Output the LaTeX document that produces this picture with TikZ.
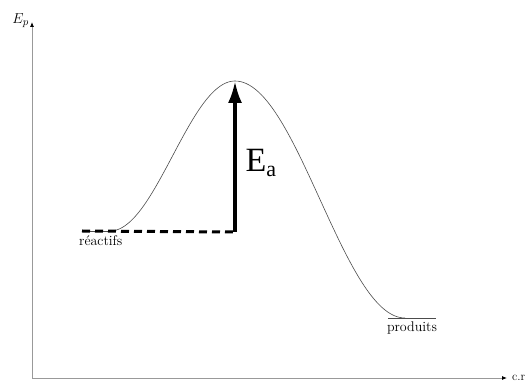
\documentclass[tikz,border=0pt]{standalone}
\usepackage{fontspec}
\newfontfamily\timesfont{Liberation Serif}
\usetikzlibrary{arrows.meta,positioning}

\begin{document}
\begin{tikzpicture}[x=1pt,y=1pt,>=Latex,
 axis/.style={draw=gray!80,line width=0.8pt,-{Latex[length=5pt,width=4pt,color=black]}},
 curve/.style={draw=black!70,line width=0.6pt},
 level/.style={draw=black!70,line width=0.6pt},
 label/.style={font=\fontsize{14}{16}\selectfont,inner sep=1pt}]
\useasboundingbox (0,0) rectangle (528,383);
% axes
\coordinate (o) at (32,5);
\coordinate (ytop) at (32,361);
\coordinate (xend) at (507,5);
\draw[axis] (o)--(ytop);
\draw[axis] (o)--(xend);
\node[label,anchor=east,font=\fontsize{15}{17}\selectfont] (ep) at (30,362) {$E_p$};
\node[label,anchor=west,font=\fontsize{12}{14}\selectfont] (cr) at (511,5.5) {c.r};
% levels
\coordinate (r1) at (82,152);
\coordinate (r2) at (110,152);
\coordinate (p1) at (388,65);
\coordinate (p2) at (436,65);
\coordinate (top) at (235,302);
\coordinate (foot) at (235,151);
\draw[level] (r1)--(r2);
\draw[level] (p1)--(p2);
\draw[curve] plot[domain=110:235,samples=60]
 (\x,{152+75*(1-cos(1.44*(\x-110)))});
\draw[curve] plot[domain=235:405,samples=60]
 (\x,{65+118.5*(1+cos(1.0588*(\x-235)))});
\node[label,anchor=north west] (reac) at (78,149) {réactifs};
\node[label,anchor=north] (prod) at (412,62) {produits};
% activation energy
\draw[line width=3pt,dash pattern=on 8pt off 5pt] (r1)--(foot);
\draw[line width=3.5pt,-{Latex[length=22pt,width=14pt]}] (foot)--(top);
\node[font=\timesfont\fontsize{34}{36}\selectfont,anchor=west] (ea) at (242,220)
 {E\raisebox{-0.35ex}{\fontsize{22}{24}\selectfont a}};
\end{tikzpicture}
\end{document}
